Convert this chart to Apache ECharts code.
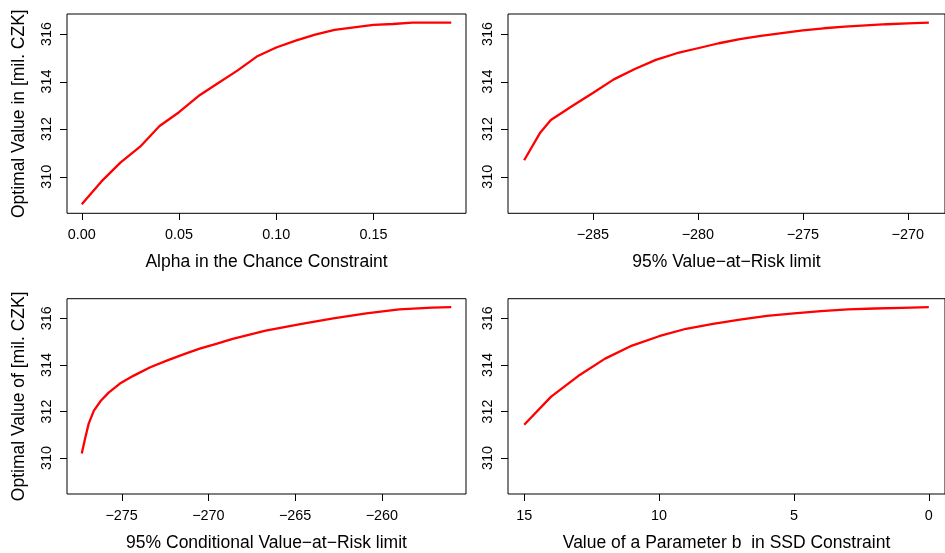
<!DOCTYPE html>
<html><head><meta charset="utf-8">
<script src="https://cdn.jsdelivr.net/npm/echarts@6/dist/echarts.min.js"></script>
<style>html,body{margin:0;padding:0;background:#fff}#c{width:945px;height:553px}</style>
</head><body><div id="c"></div>
<script>
// Panel 1: Chance constraint
const alphaX = [0,0.01,0.02,0.03,0.04,0.05,0.06,0.07,0.08,0.09,0.10,0.11,0.12,0.13,0.14,0.15,0.16,0.17,0.18,0.19];
const alphaY = [308.84,309.79,310.60,311.26,312.13,312.71,313.39,313.93,314.46,315.05,315.43,315.72,315.97,316.17,316.28,316.38,316.42,316.48,316.48,316.48];
// Panel 2: VaR
const varX = [-288.27,-287.5,-287,-286,-285,-284,-283,-282,-281,-280,-279,-278,-277,-276,-275,-274,-273,-272,-271,-270,-269];
const varY = [310.69,311.86,312.38,312.96,313.52,314.09,314.53,314.91,315.19,315.40,315.61,315.78,315.92,316.04,316.15,316.24,316.31,316.36,316.41,316.45,316.48];
// Panel 3: CVaR
const cvarX = [-277.3,-277.1,-276.9,-276.6,-276.2,-275.75,-275.1,-274.3,-273.35,-272.4,-271.4,-270.5,-269.5,-268.6,-266.7,-264.7,-262.8,-260.9,-259.0,-257.1,-256.0];
const cvarY = [310.20,310.86,311.48,312.04,312.46,312.81,313.20,313.54,313.90,314.18,314.46,314.70,314.91,315.12,315.47,315.75,316.00,316.21,316.38,316.46,316.48];
// Panel 4: SSD parameter b
const ssdX = [15,14,13,12,11,10,9,8,7,6,5,4,3,2,1,0];
const ssdY = [311.43,312.64,313.52,314.27,314.83,315.23,315.55,315.76,315.94,316.10,316.21,316.31,316.38,316.42,316.45,316.48];

const yTicks = [310,312,314,316];
const xTicks1 = [0,0.05,0.10,0.15];
const xTicks2 = [-285,-280,-275,-270];
const xTicks3 = [-275,-270,-265,-260];
const xTicks4 = [15,10,5,0];

const xTitles = ['Alpha in the Chance Constraint','95% Value\u2212at\u2212Risk limit','95% Conditional Value\u2212at\u2212Risk limit','Value of a Parameter b  in SSD Constraint'];
const yTitles = ['Optimal Value in [mil. CZK]','','Optimal Value of [mil. CZK]',''];

const FONT = 'Liberation Sans, Arial, Helvetica, sans-serif';
const minus = v => String(v).replace('-','\u2212');
const TICK = 7;

const xRanges = [[-0.0076,0.1976],[-289.04,-268.23],[-278.15,-255.15],[-0.6,15.6]];
const yRange = [308.46,316.84];

function xAxis(i, ticks, fmt, inverse){
  return {
    type:'value', gridIndex:i, min:xRanges[i][0], max:xRanges[i][1], inverse:!!inverse, position:'bottom',
    name:xTitles[i], nameLocation:'middle', nameGap:40,
    nameTextStyle:{fontFamily:FONT,fontSize:17.5,color:'#000'},
    axisLine:{show:false,onZero:false},
    axisTick:{show:false},
    axisLabel:{show:true,customValues:ticks,margin:15,fontFamily:FONT,fontSize:14.4,color:'#000',formatter:fmt},
    splitLine:{show:false}
  };
}
function yAxis(i){
  return {
    type:'value', gridIndex:i, min:yRange[0], max:yRange[1], position:'left',
    name:yTitles[i], nameLocation:'middle', nameGap:39, nameRotate:90,
    nameTextStyle:{fontFamily:FONT,fontSize:17.5,color:'#000'},
    axisLine:{show:false,onZero:false},
    axisTick:{show:false},
    axisLabel:{show:true,customValues:yTicks,rotate:90,margin:13,fontFamily:FONT,fontSize:14.4,color:'#000'},
    splitLine:{show:false}
  };
}
const pairs = (xs,ys) => xs.map((x,k)=>[x,ys[k]]);
function series(i,xs,ys){
  return {type:'line',xAxisIndex:i,yAxisIndex:i,data:pairs(xs,ys),symbol:'none',smooth:false,
    lineStyle:{color:'#ff0000',width:2.3},itemStyle:{color:'#ff0000'},animation:false,silent:true};
}
const crisp = v => Math.round(v) + 0.5;
// tick marks as custom series, positioned by the axes' own scales (one set only)
function xTickSeries(i, ticks){
  return {type:'custom', xAxisIndex:i, yAxisIndex:i, clip:false, silent:true, animation:false, z:10,
    data:ticks.map(v=>[v]),
    renderItem:function(params, api){
      const p = api.coord([api.value(0), yRange[0]]);
      const x = crisp(p[0]);
      const y0 = Math.round(p[1]);
      return {type:'line', shape:{x1:x, y1:y0, x2:x, y2:y0 + TICK}, style:{stroke:'#000', lineWidth:1}};
    }};
}
function yTickSeries(i){
  const xEdge = i === 3 ? xRanges[i][1] : xRanges[i][0];
  return {type:'custom', xAxisIndex:i, yAxisIndex:i, clip:false, silent:true, animation:false, z:10,
    data:yTicks.map(v=>[v]),
    renderItem:function(params, api){
      const p = api.coord([xEdge, api.value(0)]);
      const y = crisp(p[1]);
      const x0 = Math.round(p[0]);
      return {type:'line', shape:{x1:x0 - TICK, y1:y, x2:x0, y2:y}, style:{stroke:'#000', lineWidth:1}};
    }};
}
const gridBase = {show:true,borderColor:'#000',borderWidth:1,backgroundColor:'transparent',containLabel:false};

const chart = echarts.init(document.getElementById('c'),null,{renderer:'canvas'});
chart.setOption({
  animation:false,
  backgroundColor:'#fff',
  grid:[
    Object.assign({left:67,top:14,width:399,height:199.3},gridBase),
    Object.assign({left:508,top:14,width:443,height:199.3},gridBase),
    Object.assign({left:67,top:298.7,width:399,height:199.6},gridBase),
    Object.assign({left:508,top:298.7,width:443,height:199.6},gridBase)
  ],
  xAxis:[
    xAxis(0,xTicks1,v=>v.toFixed(2)),
    xAxis(1,xTicks2,minus),
    xAxis(2,xTicks3,minus),
    xAxis(3,xTicks4,v=>String(v),true)
  ],
  yAxis:[yAxis(0),yAxis(1),yAxis(2),yAxis(3)],
  series:[
    series(0,alphaX,alphaY),
    series(1,varX,varY),
    series(2,cvarX,cvarY),
    series(3,ssdX,ssdY),
    xTickSeries(0,xTicks1), xTickSeries(1,xTicks2), xTickSeries(2,xTicks3), xTickSeries(3,xTicks4),
    yTickSeries(0), yTickSeries(1), yTickSeries(2), yTickSeries(3)
  ]
});
</script>
</body></html>
